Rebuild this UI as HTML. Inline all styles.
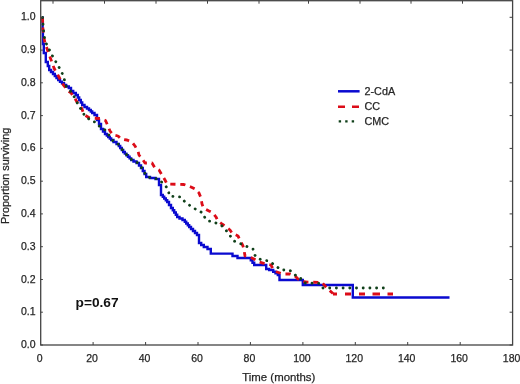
<!DOCTYPE html>
<html><head><meta charset="utf-8"><title>Survival</title>
<style>html,body{margin:0;padding:0;background:#fff;overflow:hidden}body{width:520px;height:384px;position:relative}</style>
</head><body>
<svg width="520" height="384" viewBox="0 0 520 384" style="position:absolute;left:0;top:0;filter:blur(0.35px)">
<rect x="0" y="0" width="520" height="384" fill="#fff"/>
<path d="M42.5 17.5 H42.6 V30.0 H42.7 H42.9 V44.0 H43.0 H43.8 V53.0 H44.6 H45.8 V62.0 H47.0 H47.8 V66.0 H48.5 H49.2 V70.0 H50.0 H51.0 V72.0 H52.0 H53.0 V74.0 H54.0 H54.8 V76.0 H55.7 H56.5 V78.0 H57.3 H58.2 V80.0 H59.0 H60.0 V81.7 H61.0 H62.0 V83.3 H63.0 H64.0 V85.0 H65.0 H66.2 V86.5 H67.5 H68.8 V88.0 H70.0 H71.0 V91.0 H72.0 H73.2 V93.0 H74.5 H75.8 V95.0 H77.0 H77.8 V97.5 H78.5 H79.2 V100.0 H80.0 H80.8 V102.5 H81.5 H82.2 V105.0 H83.0 H84.5 V107.0 H86.0 H87.0 V108.5 H88.0 H89.0 V110.0 H90.0 H90.8 V111.5 H91.5 H92.2 V113.0 H93.0 H94.5 V115.0 H96.0 H97.0 V120.0 H98.0 H99.0 V124.0 H100.0 H101.0 V129.0 H102.0 H103.0 V131.5 H104.0 H105.0 V134.0 H106.0 H106.8 V135.5 H107.5 H108.2 V137.0 H109.0 H109.8 V138.5 H110.5 H111.2 V140.0 H112.0 H113.5 V142.0 H115.0 H116.5 V144.0 H118.0 H118.8 V146.0 H119.5 H120.2 V148.0 H121.0 H121.8 V150.0 H122.5 H123.2 V152.0 H124.0 H124.8 V153.6 H125.6 H126.4 V155.2 H127.2 H128.0 V156.8 H128.8 H129.6 V158.4 H130.4 H131.2 V160.0 H132.0 H133.5 V161.5 H135.0 H136.5 V163.0 H138.0 H139.0 V165.5 H140.0 H141.0 V168.0 H142.0 H142.8 V171.0 H143.7 H144.5 V174.0 H145.3 H146.2 V177.0 H147.0 H150.0 V178.0 H153.0 H155.5 V179.0 H158.0 H159.0 V185.0 H160.0 H161.0 V195.0 H162.0 H162.8 V196.8 H163.5 H164.2 V198.5 H165.0 H165.8 V200.2 H166.5 H167.2 V202.0 H168.0 H169.0 V205.0 H170.0 H171.0 V208.0 H172.0 H172.8 V210.2 H173.5 H174.2 V212.5 H175.0 H175.8 V214.8 H176.5 H177.2 V217.0 H178.0 H179.5 V218.5 H181.0 H182.5 V220.0 H184.0 H184.8 V221.8 H185.5 H186.2 V223.5 H187.0 H187.8 V225.2 H188.5 H189.2 V227.0 H190.0 H191.0 V229.0 H192.0 H193.0 V231.0 H194.0 H195.0 V233.0 H196.0 H197.0 V235.0 H198.0 H199.0 V243.0 H200.0 H201.2 V245.0 H202.5 H203.8 V247.0 H205.0 H207.5 V249.0 H210.0 H210.8 V253.6 H211.6 L232.0 253.6 H232.5 V256.0 H233.0 H237.5 V258.0 H242.0 L250.0 258.0 H250.8 V260.3 H251.7 H252.5 V262.7 H253.3 H254.2 V265.0 H255.0 L266.0 265.0 H266.2 V269.0 H266.5 H269.2 V270.0 H272.0 H273.2 V271.7 H274.3 H275.5 V273.3 H276.7 H277.8 V275.0 H279.0 H279.5 V280.0 H280.0 L302.5 280.0 H302.8 V285.0 H303.0 L352.5 285.0 H352.8 V297.5 H353.0 L449.5 297.5" fill="none" stroke="#0a0ad0" stroke-width="2.4" stroke-linejoin="miter"/>
<path d="M42.5 17.5 L43.0 30.0 L44.0 38.0 L45.0 43.0 L50.0 57.0 L54.0 68.0 L56.0 72.0 L59.0 77.0 L62.0 83.0 L65.0 87.0 L67.0 90.0 L71.0 93.0 L74.0 97.0 L77.0 102.0 L79.0 104.0 L82.0 109.0 L84.0 114.5 L89.5 118.0 L100.0 118.5 L105.5 120.5 L107.5 125.0 L110.0 131.0 L113.0 135.0 L118.0 136.0 L121.0 139.0 L127.0 140.0 L132.0 142.0 L135.0 146.0 L138.0 151.0 L139.0 155.0 L143.0 160.0 L145.0 163.0 L152.0 163.0 L155.0 168.0 L159.0 170.0 L162.0 175.0 L165.0 180.0 L167.0 184.0 L184.0 184.5 L191.0 187.0 L195.0 189.0 L199.0 193.0 L201.0 198.0 L202.0 204.0 L203.5 208.0 L209.0 211.0 L213.0 213.0 L216.0 217.0 L218.0 221.0 L222.0 224.0 L225.0 226.0 L230.0 230.0 L232.0 233.0 L238.0 236.0 L240.0 240.0 L243.0 246.0 L244.0 250.0 L245.0 256.0 L250.0 257.0 L256.0 260.0 L259.0 262.0 L266.0 264.0 L271.0 265.0 L273.0 269.0 L277.0 272.0 L283.0 274.0 L290.0 274.0 L295.0 276.0 L298.0 279.0 L305.0 282.0 L322.0 282.5 L326.0 287.0 L329.0 290.0 L333.0 293.5" fill="none" stroke="#dc0c18" stroke-width="2.8" stroke-dasharray="5.2 4.8" stroke-linejoin="round"/>
<path d="M333 294 H393" fill="none" stroke="#dc0c18" stroke-width="2.8" stroke-dasharray="4 8 6 8 6 7.5 7.5 7.5 5.5 50"/>
<path d="M42.5 17.5 L44.0 36.0 L46.0 43.0 L49.0 49.0 L53.0 57.0 L56.6 63.0 L60.0 69.0 L63.0 75.0 L64.6 80.4 L66.0 86.0 L72.0 93.0 L76.0 100.0 L79.0 107.0 L82.0 110.0 L84.0 114.5 L91.0 121.0 L96.5 122.5 L100.0 127.0 L104.5 129.5 L107.0 132.0 L112.0 140.0 L118.0 144.0 L124.0 152.0 L132.0 160.0 L138.0 163.0 L142.0 168.0 L147.0 177.0 L153.0 178.0 L158.0 179.0 L164.0 184.0 L168.0 189.0 L169.5 196.0 L181.0 197.0 L185.0 202.0 L192.0 207.0 L197.0 210.0 L203.0 213.0 L205.0 218.0 L208.0 221.0 L213.0 221.5 L216.0 223.0 L221.0 225.0 L225.0 229.0 L229.0 234.0 L231.0 237.0 L234.0 241.0 L239.0 243.0 L248.0 247.0 L253.0 249.0 L254.0 254.0 L257.0 258.0 L262.0 260.0 L269.0 261.0 L276.0 266.0 L281.0 270.0 L288.0 270.0 L291.0 271.0 L295.0 275.0 L300.0 277.0 L302.0 281.0 L305.0 283.0 L320.0 283.5 L323.0 288.0 L386.0 288.0" fill="none" stroke="#10401a" stroke-width="2.8" stroke-dasharray="0.1 6.6" stroke-linecap="round" stroke-linejoin="round"/>
<rect x="40.7" y="0.7" width="471.9" height="344.3" fill="none" stroke="#444" stroke-width="1.3"/>
<path d="M93.1 345.0 v-3 M145.6 345.0 v-3 M198.0 345.0 v-3 M250.4 345.0 v-3 M302.9 345.0 v-3 M355.3 345.0 v-3 M407.7 345.0 v-3 M460.2 345.0 v-3 M53.0 0.7 v3 M104.5 0.7 v3 M156.0 0.7 v3 M207.5 0.7 v3 M259.0 0.7 v3 M308.5 0.7 v3 M360.0 0.7 v3 M411.0 0.7 v3 M462.5 0.7 v3 M40.7 345.0 h2.2 M512.6 345.0 h-3 M40.7 312.2 h2.2 M512.6 312.2 h-3 M40.7 279.5 h2.2 M512.6 279.5 h-3 M40.7 246.7 h2.2 M512.6 246.7 h-3 M40.7 213.9 h2.2 M512.6 213.9 h-3 M40.7 181.2 h2.2 M512.6 181.2 h-3 M40.7 148.4 h2.2 M512.6 148.4 h-3 M40.7 115.6 h2.2 M512.6 115.6 h-3 M40.7 82.8 h2.2 M512.6 82.8 h-3 M40.7 50.1 h2.2 M512.6 50.1 h-3 M40.7 17.3 h2.2 M512.6 17.3 h-3" stroke="#404040" stroke-width="1" fill="none"/>
<g font-family="Liberation Sans, Arial, sans-serif" font-size="10.5" fill="#262626" stroke="#262626" stroke-width="0.25">
<text x="35.5" y="348.0" text-anchor="end">0.0</text>
<text x="35.5" y="315.2" text-anchor="end">0.1</text>
<text x="35.5" y="282.5" text-anchor="end">0.2</text>
<text x="35.5" y="249.7" text-anchor="end">0.3</text>
<text x="35.5" y="216.9" text-anchor="end">0.4</text>
<text x="35.5" y="184.2" text-anchor="end">0.5</text>
<text x="35.5" y="151.4" text-anchor="end">0.6</text>
<text x="35.5" y="118.6" text-anchor="end">0.7</text>
<text x="35.5" y="85.8" text-anchor="end">0.8</text>
<text x="35.5" y="53.1" text-anchor="end">0.9</text>
<text x="35.5" y="20.3" text-anchor="end">1.0</text>
<text x="39.7" y="362" text-anchor="middle">0</text>
<text x="92.1" y="362" text-anchor="middle">20</text>
<text x="144.6" y="362" text-anchor="middle">40</text>
<text x="197.0" y="362" text-anchor="middle">60</text>
<text x="249.4" y="362" text-anchor="middle">80</text>
<text x="301.9" y="362" text-anchor="middle">100</text>
<text x="354.3" y="362" text-anchor="middle">120</text>
<text x="406.7" y="362" text-anchor="middle">140</text>
<text x="459.2" y="362" text-anchor="middle">160</text>
<text x="511.6" y="362" text-anchor="middle">180</text>
<text x="278.8" y="380.6" text-anchor="middle" font-size="11.4">Time (months)</text>
<text transform="translate(9.4,175.8) rotate(-90)" text-anchor="middle" font-size="10.9">Proportion surviving</text>
<g font-size="10.8"><text x="364.5" y="95">2-CdA</text><text x="364.5" y="110">CC</text><text x="364.5" y="125">CMC</text></g>
</g>
<text x="75.6" y="306.9" font-family="Liberation Sans, Arial, sans-serif" font-weight="bold" font-size="13.7" fill="#111">p=0.67</text>
<path d="M338 91.3 H359.6" stroke="#0a0ad0" stroke-width="2.5"/>
<path d="M338 106.7 H360" stroke="#dc0c18" stroke-width="2.6" stroke-dasharray="7 7"/>
<path d="M338.7 121.4 H356" stroke="#10401a" stroke-width="2.4" stroke-dasharray="2.4 4.1"/>
</svg>
</body></html>
